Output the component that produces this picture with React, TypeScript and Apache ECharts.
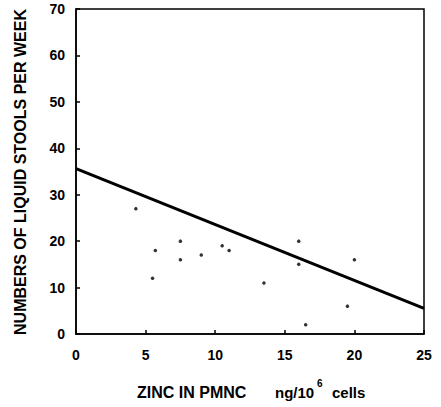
import React, { useEffect, useRef } from "react";
import * as echarts from "echarts";

const zincX = [4.3, 5.5, 5.7, 7.5, 7.5, 9.0, 10.5, 11.0, 13.5, 16.0, 16.0, 16.5, 19.5, 20.0];
const stoolsY = [27, 12, 18, 20, 16, 17, 19, 18, 11, 20, 15, 2, 6, 16];
const fitX = [0, 25];
const fitY = [35.6, 5.5];

const FONT = "Liberation Sans, Arial, sans-serif";

export default function App() {
  const ref = useRef<HTMLDivElement>(null);
  useEffect(() => {
    if (!ref.current) return;
    const chart = echarts.init(ref.current, undefined, { renderer: "svg" });
    chart.setOption({
      animation: false,
      backgroundColor: "#fff",
      grid: {
        left: 76,
        top: 9,
        right: 17,
        bottom: 73,
        show: true,
        borderColor: "#000",
        borderWidth: 1.5,
        backgroundColor: "transparent",
      },
      xAxis: {
        type: "value",
        min: 0,
        max: 25,
        interval: 5,
        splitLine: { show: false },
        axisLine: { show: true, lineStyle: { color: "#000", width: 1.5 } },
        axisTick: { show: true, inside: true, length: 4, lineStyle: { color: "#000", width: 1.5 } },
        axisLabel: { color: "#000", fontFamily: FONT, fontWeight: "bold", fontSize: 14, margin: 14 },
      },
      yAxis: {
        type: "value",
        min: 0,
        max: 70,
        interval: 10,
        splitLine: { show: false },
        axisLine: { show: true, lineStyle: { color: "#000", width: 1.5 } },
        axisTick: { show: true, inside: true, length: 4, lineStyle: { color: "#000", width: 1.5 } },
        axisLabel: { color: "#000", fontFamily: FONT, fontWeight: "bold", fontSize: 14, margin: 11 },
      },
      series: [
        {
          type: "scatter",
          data: zincX.map((x, i) => [x, stoolsY[i]]),
          symbol: "circle",
          symbolSize: 3.5,
          itemStyle: { color: "#000" },
        },
        {
          type: "line",
          data: fitX.map((x, i) => [x, fitY[i]]),
          showSymbol: false,
          symbol: "none",
          lineStyle: { color: "#000", width: 3 },
        },
      ],
      graphic: [
        {
          type: "text",
          x: 20,
          y: 172,
          rotation: Math.PI / 2,
          style: {
            text: "NUMBERS OF LIQUID STOOLS PER WEEK",
            font: `bold 16px ${FONT}`,
            fill: "#000",
            align: "center",
            verticalAlign: "middle",
          },
        },
        {
          type: "text",
          x: 137,
          y: 392,
          style: {
            text: "ZINC IN PMNC",
            font: `bold 16px ${FONT}`,
            fill: "#000",
            verticalAlign: "middle",
          },
        },
        {
          type: "text",
          x: 275,
          y: 392,
          style: {
            text: "ng/10",
            font: `bold 15px ${FONT}`,
            fill: "#000",
            verticalAlign: "middle",
          },
        },
        {
          type: "text",
          x: 317,
          y: 383,
          style: {
            text: "6",
            font: `bold 10px ${FONT}`,
            fill: "#000",
            verticalAlign: "middle",
          },
        },
        {
          type: "text",
          x: 332,
          y: 392,
          style: {
            text: "cells",
            font: `bold 15px ${FONT}`,
            fill: "#000",
            verticalAlign: "middle",
          },
        },
      ],
    });
    return () => chart.dispose();
  }, []);
  return (
    <div
      ref={ref}
      style={{ position: "absolute", left: 0, top: 0, width: 441, height: 407 }}
    />
  );
}
